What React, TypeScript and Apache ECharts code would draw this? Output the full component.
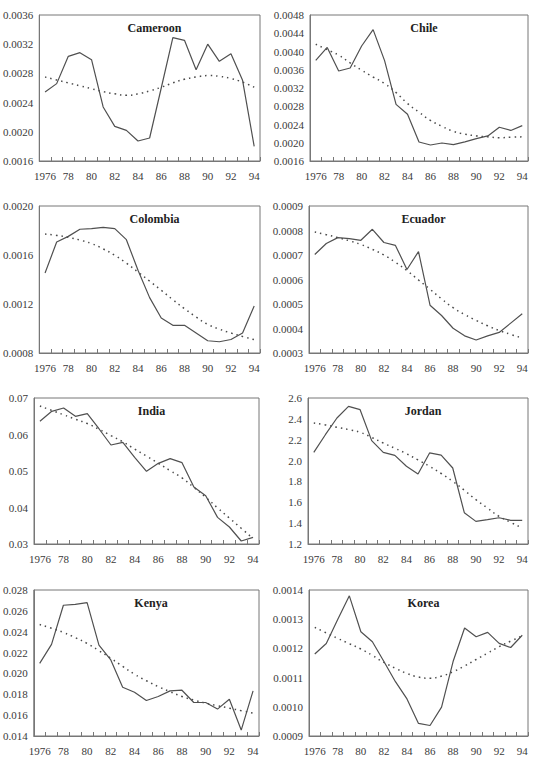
import React, { useEffect, useRef } from "react";
import * as echarts from "echarts";

const years = ["1976","1977","1978","1979","1980","1981","1982","1983","1984","1985","1986","1987","1988","1989","1990","1991","1992","1993","1994"];

const cameroonActual = [0.002545,0.00266,0.003034,0.003084,0.002988,0.00234,0.002075,0.00202,0.001874,0.001915,0.0026,0.00329,0.003253,0.00285,0.0032,0.002965,0.00307,0.002705,0.0018];
const cameroonTrend = [0.00275,0.00271,0.00267,0.00263,0.00259,0.00255,0.00252,0.0025,0.00252,0.00256,0.00261,0.00267,0.00272,0.00275,0.00277,0.00276,0.00273,0.00268,0.00261];

const chileActual = [0.003806,0.00409,0.003573,0.003638,0.00412,0.00448,0.0038,0.002842,0.002623,0.002016,0.00195,0.001995,0.00196,0.00202,0.00209,0.00215,0.00234,0.00227,0.002375];
const chileTrend = [0.00416,0.00404,0.00392,0.00375,0.00359,0.00344,0.0033,0.0031,0.00286,0.00267,0.00249,0.00236,0.00225,0.00219,0.00215,0.00213,0.00211,0.00212,0.00213];

const colombiaActual = [0.001453,0.001706,0.001752,0.00181,0.001815,0.001826,0.001815,0.001725,0.001475,0.001252,0.001086,0.001026,0.001026,0.000963,0.0009,0.000892,0.00091,0.000963,0.001184];
const colombiaTrend = [0.001771,0.00176,0.001744,0.001722,0.001693,0.00165,0.001597,0.001533,0.001461,0.001387,0.001312,0.001235,0.001162,0.001094,0.001034,0.000995,0.000963,0.000935,0.000909];

const ecuadorActual = [0.000702,0.000747,0.000771,0.000767,0.00076,0.000805,0.000751,0.000739,0.000641,0.000714,0.000495,0.000453,0.000401,0.00037,0.000353,0.00037,0.000384,0.000422,0.00046];
const ecuadorTrend = [0.000794,0.000783,0.000771,0.000758,0.000743,0.000723,0.0007,0.00067,0.000636,0.000598,0.00056,0.000521,0.000485,0.000457,0.000433,0.000411,0.000392,0.000376,0.000361];

const indiaActual = [0.06361,0.06635,0.06726,0.06498,0.06571,0.06151,0.05712,0.05785,0.05374,0.04991,0.0521,0.05338,0.05228,0.04562,0.04324,0.0373,0.03466,0.03082,0.03183];
const indiaTrend = [0.0678,0.0666,0.0654,0.0642,0.063,0.0614,0.0597,0.058,0.056,0.0541,0.0521,0.0501,0.0481,0.0455,0.0428,0.0399,0.0371,0.0343,0.0315];

const jordanActual = [2.079,2.248,2.408,2.52,2.488,2.191,2.079,2.05,1.945,1.871,2.073,2.053,1.929,1.5,1.417,1.433,1.452,1.427,1.427];
const jordanTrend = [2.36,2.342,2.319,2.297,2.271,2.222,2.168,2.118,2.066,2.006,1.945,1.876,1.801,1.715,1.625,1.545,1.465,1.408,1.353];

const kenyaActual = [0.02097,0.02278,0.02654,0.02663,0.02679,0.02272,0.02129,0.01868,0.0182,0.0174,0.01779,0.01833,0.01839,0.01721,0.01721,0.01658,0.01753,0.01457,0.01833];
const kenyaTrend = [0.02469,0.02433,0.02393,0.02343,0.02288,0.02218,0.02145,0.02068,0.01992,0.0193,0.01874,0.01825,0.01779,0.01745,0.01715,0.0169,0.01667,0.01643,0.0162];

const koreaActual = [0.001181,0.001217,0.0013,0.00138,0.001257,0.001223,0.001155,0.001086,0.001027,0.000943,0.000936,0.000999,0.001155,0.00127,0.00124,0.001255,0.001217,0.001203,0.001245];
const koreaTrend = [0.001272,0.001253,0.001234,0.001216,0.001198,0.001176,0.001152,0.001132,0.001114,0.001102,0.001098,0.001105,0.00112,0.00114,0.001162,0.001184,0.001206,0.001225,0.001243];

const panelNames = ["Cameroon","Chile","Colombia","Ecuador","India","Jordan","Kenya","Korea"];
const actuals = [cameroonActual, chileActual, colombiaActual, ecuadorActual, indiaActual, jordanActual, kenyaActual, koreaActual];
const trends = [cameroonTrend, chileTrend, colombiaTrend, ecuadorTrend, indiaTrend, jordanTrend, kenyaTrend, koreaTrend];
const yMins = [0.0016, 0.0016, 0.0008, 0.0003, 0.03, 1.2, 0.014, 0.0009];
const yMaxs = [0.0036, 0.0048, 0.0020, 0.0009, 0.07, 2.6, 0.028, 0.0014];
const yIntervals = [0.0004, 0.0004, 0.0004, 0.0001, 0.01, 0.2, 0.002, 0.0001];
const yDecimals = [4, 4, 4, 4, 2, 1, 3, 4];

// layout (px)
const grids = [
  { left: 39, top: 15, width: 221, height: 146 },
  { left: 310, top: 15, width: 218, height: 146 },
  { left: 39, top: 206, width: 221, height: 147 },
  { left: 309, top: 206, width: 219, height: 147 },
  { left: 34, top: 398, width: 225, height: 146 },
  { left: 308, top: 398, width: 220, height: 146 },
  { left: 33, top: 590, width: 226, height: 146 },
  { left: 309, top: 590, width: 219, height: 146 },
];

const FONT = "'Liberation Serif', 'DejaVu Serif', serif";
const AXIS = "#777";
const TEXT = "#3a3a3a";

export default function App() {
  const ref = useRef<HTMLDivElement>(null);
  useEffect(() => {
    if (!ref.current) return;
    const chart = echarts.init(ref.current, undefined, { renderer: "svg" });
    const option: any = {
      animation: false,
      backgroundColor: "#fff",
      textStyle: { fontFamily: FONT },
      title: grids.map((g, i) => ({
        text: panelNames[i],
        left: g.left + g.width / 2,
        top: g.top + 2,
        textAlign: "center",
        textStyle: { fontFamily: FONT, fontSize: 12, fontWeight: "bold", color: "#222" },
      })),
      grid: grids.map((g) => ({
        left: g.left, top: g.top, width: g.width, height: g.height,
        show: true, borderColor: AXIS, borderWidth: 1, containLabel: false,
      })),
      xAxis: grids.map((_, i) => ({
        type: "category",
        gridIndex: i,
        data: years,
        boundaryGap: true,
        axisLine: { show: true, lineStyle: { color: AXIS, width: 1 } },
        axisTick: { show: true, inside: true, length: 4, interval: 0, lineStyle: { color: AXIS } },
        axisLabel: {
          interval: 1,
          margin: 9,
          fontFamily: FONT,
          fontSize: 11,
          color: TEXT,
          formatter: (v: string, idx: number) => (idx === 0 ? v : v.slice(2)),
        },
        splitLine: { show: false },
      })),
      yAxis: grids.map((_, i) => ({
        type: "value",
        gridIndex: i,
        min: yMins[i],
        max: yMaxs[i],
        interval: yIntervals[i],
        axisLine: { show: true, lineStyle: { color: AXIS, width: 1 } },
        axisTick: { show: false },
        splitLine: { show: false },
        axisLabel: {
          margin: 6,
          fontFamily: FONT,
          fontSize: 11,
          color: TEXT,
          formatter: (v: number) => v.toFixed(yDecimals[i]),
        },
      })),
      series: [
        ...actuals.map((d, i) => ({
          type: "line",
          xAxisIndex: i,
          yAxisIndex: i,
          data: d,
          symbol: "none",
          lineStyle: { color: "#505050", width: 1.2, type: "solid" },
          z: 3,
        })),
        ...trends.map((d, i) => ({
          type: "line",
          xAxisIndex: i,
          yAxisIndex: i,
          data: d,
          symbol: "none",
          smooth: true,
          lineStyle: { color: "#4a4a4a", width: 1.5, type: [1.5, 4], cap: "butt" },
          z: 2,
        })),
      ],
    };
    chart.setOption(option);
    return () => chart.dispose();
  }, []);
  return <div ref={ref} style={{ position: "absolute", left: 0, top: 0, width: 536, height: 767 }} />;
}
